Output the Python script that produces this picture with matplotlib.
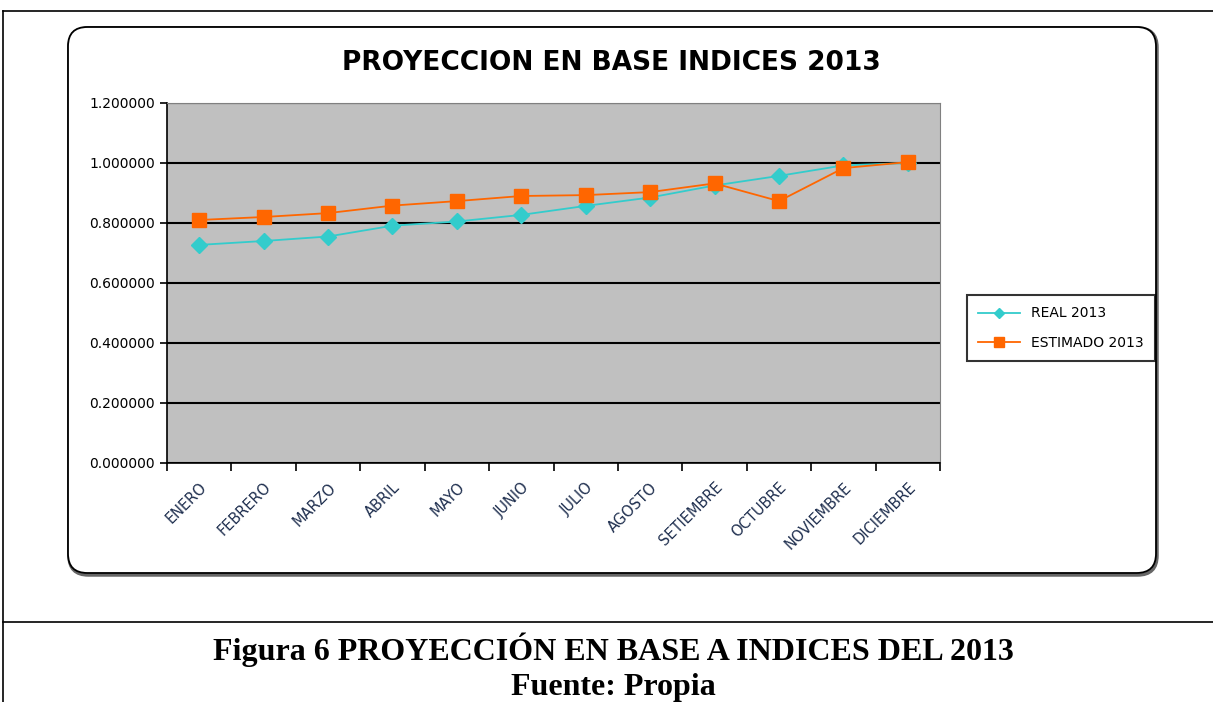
import matplotlib
matplotlib.use("Agg")
import matplotlib.pyplot as plt
from matplotlib.patches import FancyBboxPatch
from matplotlib.lines import Line2D

# data
meses = ["ENERO", "FEBRERO", "MARZO", "ABRIL", "MAYO", "JUNIO", "JULIO",
         "AGOSTO", "SETIEMBRE", "OCTUBRE", "NOVIEMBRE", "DICIEMBRE"]
real_2013 = [0.727, 0.740, 0.755, 0.791, 0.805, 0.827, 0.857,
             0.885, 0.925, 0.957, 0.992, 1.000]
estimado_2013 = [0.810, 0.820, 0.833, 0.858, 0.873, 0.890, 0.893,
                 0.903, 0.932, 0.873, 0.983, 1.003]
yticks = [0.0, 0.2, 0.4, 0.6, 0.8, 1.0, 1.2]

W, H = 1213, 702
fig = plt.figure(figsize=(W / 100, H / 100), dpi=100)
fig.patch.set_facecolor("white")

def fx(px):
    return px / W

def fy(py):
    return 1 - py / H

# page lines
fig.add_artist(Line2D([fx(3), fx(W)], [fy(11), fy(11)], color="black", lw=1.2))
fig.add_artist(Line2D([fx(3), fx(3)], [fy(11), fy(H)], color="black", lw=1.2))
fig.add_artist(Line2D([fx(3), fx(W)], [fy(622), fy(622)], color="black", lw=1.2))

# rounded chart frame with a little shadow, kept behind the axes
shadow = FancyBboxPatch((fx(69), fy(575)), fx(1088), (575 - 28) / H,
                        boxstyle="round,pad=0,rounding_size=0.016",
                        transform=fig.transFigure, facecolor="none",
                        edgecolor="#666666", lw=2.5, mutation_aspect=W / H,
                        zorder=-3)
fig.add_artist(shadow)
frame = FancyBboxPatch((fx(68), fy(573)), fx(1088), (573 - 27) / H,
                       boxstyle="round,pad=0,rounding_size=0.016",
                       transform=fig.transFigure, facecolor="white",
                       edgecolor="black", lw=1.3, mutation_aspect=W / H,
                       zorder=-2)
fig.add_artist(frame)

ax = fig.add_axes([fx(167), fy(463), fx(940 - 167), (463 - 103) / H])
ax.set_zorder(1)
ax.set_facecolor("#C0C0C0")
x = list(range(len(meses)))
ax.plot(x, real_2013, color="#33CCCC", lw=1.3, marker="D", ms=8,
        label="REAL 2013", zorder=3)
ax.plot(x, estimado_2013, color="#FF6600", lw=1.3, marker="s", ms=10,
        label="ESTIMADO 2013", zorder=4)

ax.set_ylim(0, 1.2)
ax.set_xlim(-0.5, len(meses) - 0.5)
ax.set_yticks(yticks)
ax.set_yticklabels(["%.6f" % v for v in yticks], fontsize=10)
ax.yaxis.grid(True, color="black", lw=1.5)
ax.set_axisbelow(True)
ax.set_xticks(x)
ax.set_xticklabels(meses, rotation=45, ha="right", rotation_mode="anchor",
                   fontsize=10.5, color="#1F2F4F")
ax.tick_params(axis="x", length=0, pad=12)
ax.set_xticks([i - 0.5 for i in range(len(meses) + 1)], minor=True)
ax.tick_params(axis="x", which="minor", length=6, width=1.2)
ax.tick_params(axis="y", length=5, width=1.2)
for s in ["top", "right"]:
    ax.spines[s].set_color("#808080")
ax.spines["left"].set_linewidth(1.2)
ax.spines["bottom"].set_linewidth(1.2)

fig.text(fx(611), fy(63), "PROYECCION EN BASE INDICES 2013", ha="center",
         va="center", fontsize=19, fontweight="bold")

leg = ax.legend(loc="center left", bbox_to_anchor=(fx(960), fy(328)),
                bbox_transform=fig.transFigure, frameon=True, fancybox=False,
                edgecolor="black", fontsize=10, handlelength=3,
                borderpad=0.8, labelspacing=1.1, markerscale=0.7)
leg.get_frame().set_linewidth(1.5)

fig.text(fx(613), fy(650), "Figura 6 PROYECCIÓN EN BASE A INDICES DEL 2013",
         ha="center", va="center", fontsize=23, fontweight="bold",
         family="Liberation Serif")
fig.text(fx(613), fy(688), "Fuente: Propia", ha="center", va="center",
         fontsize=23, fontweight="bold", family="Liberation Serif")

fig.savefig("out.png", dpi=100)
